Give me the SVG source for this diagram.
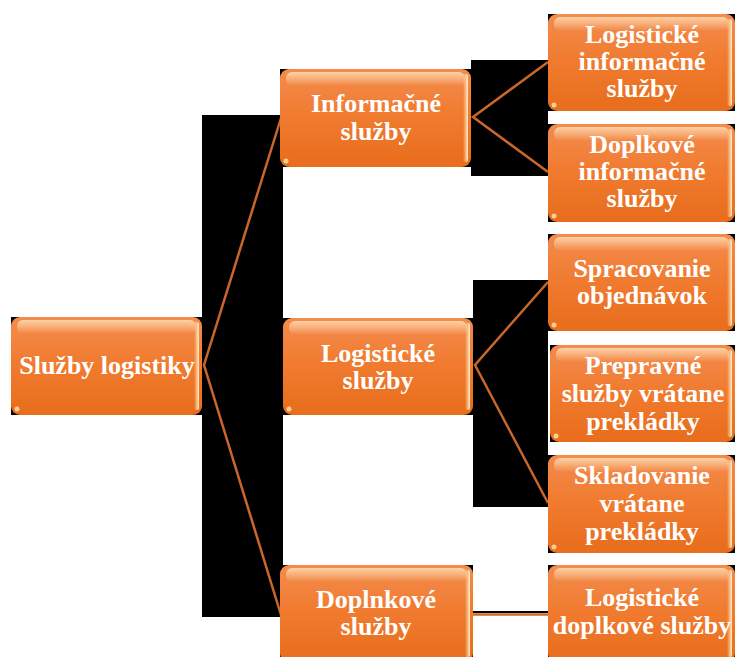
<svg xmlns="http://www.w3.org/2000/svg" width="738" height="657" viewBox="0 0 738 657">
<defs>
<linearGradient id="fill" x1="0" y1="0" x2="0" y2="1">
<stop offset="0" stop-color="#F38C4E"/>
<stop offset="0.5" stop-color="#F07A2E"/>
<stop offset="1" stop-color="#E86D1C"/>
</linearGradient>
<linearGradient id="gloss" x1="0" y1="0" x2="0" y2="1">
<stop offset="0" stop-color="#FFD9B0" stop-opacity="0.9"/>
<stop offset="1" stop-color="#FFD9B0" stop-opacity="0"/>
</linearGradient>
<linearGradient id="edge" x1="0" y1="0" x2="1" y2="0">
<stop offset="0" stop-color="#FFE8B8" stop-opacity="0"/>
<stop offset="1" stop-color="#FFF0C8" stop-opacity="1"/>
</linearGradient>
</defs>
<style>
.bg{fill:#000}
.box{fill:url(#fill)}
.gl{fill:url(#gloss)}
.ed{fill:url(#edge)}
.dot{fill:#FFE9B0;opacity:0.8}
text{font-family:"Liberation Serif","Times New Roman",serif;font-weight:bold;font-size:26px;fill:#FFFFFF;text-anchor:middle}
.ln{stroke:#C9672A;stroke-width:2.5;fill:none}
</style>
<rect width="738" height="657" fill="#FFFFFF"/>
<g id="backdrops">
<rect class="bg" x="202" y="115" width="81" height="502"/>
<rect class="bg" x="471" y="60" width="77" height="116"/>
<rect class="bg" x="473" y="280" width="75" height="227"/>
</g>
<g id="connectors">
<polyline class="ln" points="281,118 204,365 281,615"/>
<polyline class="ln" points="548,62 473,117 548,172"/>
<polyline class="ln" points="548,282 475,365 548,503"/>
<line x1="473" y1="612" x2="548" y2="612" stroke="#000" stroke-width="2"/>
<line x1="473" y1="614.5" x2="548" y2="614.5" stroke="#D06A28" stroke-width="2.5"/>
</g>
<g id="n_root">
<rect class="bg" x="11" y="317" width="191" height="98"/>
<rect class="box" x="11" y="317" width="191" height="98" rx="9"/>
<rect class="gl" x="17" y="320" width="179" height="14" rx="6"/>
<rect class="ed" x="194" y="322" width="5" height="88" rx="2"/>
<circle class="dot" cx="17" cy="409" r="2.5"/>
<text x="107" y="374">Služby logistiky</text>
</g>
<g id="n_info">
<rect class="bg" x="280" y="69" width="191" height="98"/>
<rect class="box" x="280" y="69" width="191" height="98" rx="9"/>
<rect class="gl" x="286" y="72" width="179" height="14" rx="6"/>
<rect class="ed" x="463" y="74" width="5" height="88" rx="2"/>
<circle class="dot" cx="286" cy="161" r="2.5"/>
<text x="376" y="112">Informačné</text>
<text x="376" y="140">služby</text>
</g>
<g id="n_log">
<rect class="bg" x="283" y="318" width="190" height="97"/>
<rect class="box" x="283" y="318" width="190" height="97" rx="9"/>
<rect class="gl" x="289" y="321" width="178" height="14" rx="6"/>
<rect class="ed" x="465" y="323" width="5" height="87" rx="2"/>
<circle class="dot" cx="289" cy="409" r="2.5"/>
<text x="378" y="362">Logistické</text>
<text x="378" y="389">služby</text>
</g>
<g id="n_dopl">
<rect class="bg" x="280" y="565" width="193" height="92"/>
<rect class="box" x="280" y="565" width="193" height="97" rx="9"/>
<rect class="gl" x="286" y="568" width="181" height="14" rx="6"/>
<rect class="ed" x="465" y="570" width="5" height="87" rx="2"/>
<text x="376" y="608">Doplnkové</text>
<text x="376" y="635">služby</text>
</g>
<g id="n_loginfo">
<rect class="bg" x="548" y="14" width="187" height="97"/>
<rect class="box" x="548" y="14" width="187" height="97" rx="9"/>
<rect class="gl" x="554" y="17" width="175" height="14" rx="6"/>
<rect class="ed" x="727" y="19" width="5" height="87" rx="2"/>
<circle class="dot" cx="554" cy="105" r="2.5"/>
<text x="642" y="43">Logistické</text>
<text x="642" y="70">informačné</text>
<text x="642" y="97">služby</text>
</g>
<g id="n_doplinfo">
<rect class="bg" x="548" y="124" width="187" height="98"/>
<rect class="box" x="548" y="124" width="187" height="98" rx="9"/>
<rect class="gl" x="554" y="127" width="175" height="14" rx="6"/>
<rect class="ed" x="727" y="129" width="5" height="88" rx="2"/>
<circle class="dot" cx="554" cy="216" r="2.5"/>
<text x="642" y="153">Doplkové</text>
<text x="642" y="180">informačné</text>
<text x="642" y="207">služby</text>
</g>
<g id="n_sprac">
<rect class="bg" x="548" y="234" width="187" height="97"/>
<rect class="box" x="548" y="234" width="187" height="97" rx="9"/>
<rect class="gl" x="554" y="237" width="175" height="14" rx="6"/>
<rect class="ed" x="727" y="239" width="5" height="87" rx="2"/>
<circle class="dot" cx="554" cy="325" r="2.5"/>
<text x="642" y="277">Spracovanie</text>
<text x="642" y="304">objednávok</text>
</g>
<g id="n_prepr">
<rect class="bg" x="550" y="345" width="185" height="97"/>
<rect class="box" x="550" y="345" width="185" height="97" rx="9"/>
<rect class="gl" x="556" y="348" width="173" height="14" rx="6"/>
<rect class="ed" x="727" y="350" width="5" height="87" rx="2"/>
<circle class="dot" cx="556" cy="436" r="2.5"/>
<text x="643" y="374">Prepravné</text>
<text x="643" y="402">služby vrátane</text>
<text x="643" y="430">prekládky</text>
</g>
<g id="n_sklad">
<rect class="bg" x="548" y="455" width="187" height="98"/>
<rect class="box" x="548" y="455" width="187" height="98" rx="9"/>
<rect class="gl" x="554" y="458" width="175" height="14" rx="6"/>
<rect class="ed" x="727" y="460" width="5" height="88" rx="2"/>
<circle class="dot" cx="554" cy="547" r="2.5"/>
<text x="642" y="484">Skladovanie</text>
<text x="642" y="512">vrátane</text>
<text x="642" y="540">prekládky</text>
</g>
<g id="n_logdopl">
<rect class="bg" x="548" y="565" width="187" height="92"/>
<rect class="box" x="548" y="565" width="187" height="97" rx="9"/>
<rect class="gl" x="554" y="568" width="175" height="14" rx="6"/>
<rect class="ed" x="727" y="570" width="5" height="87" rx="2"/>
<text x="642" y="606">Logistické</text>
<text x="642" y="634">doplkové služby</text>
</g>
</svg>
